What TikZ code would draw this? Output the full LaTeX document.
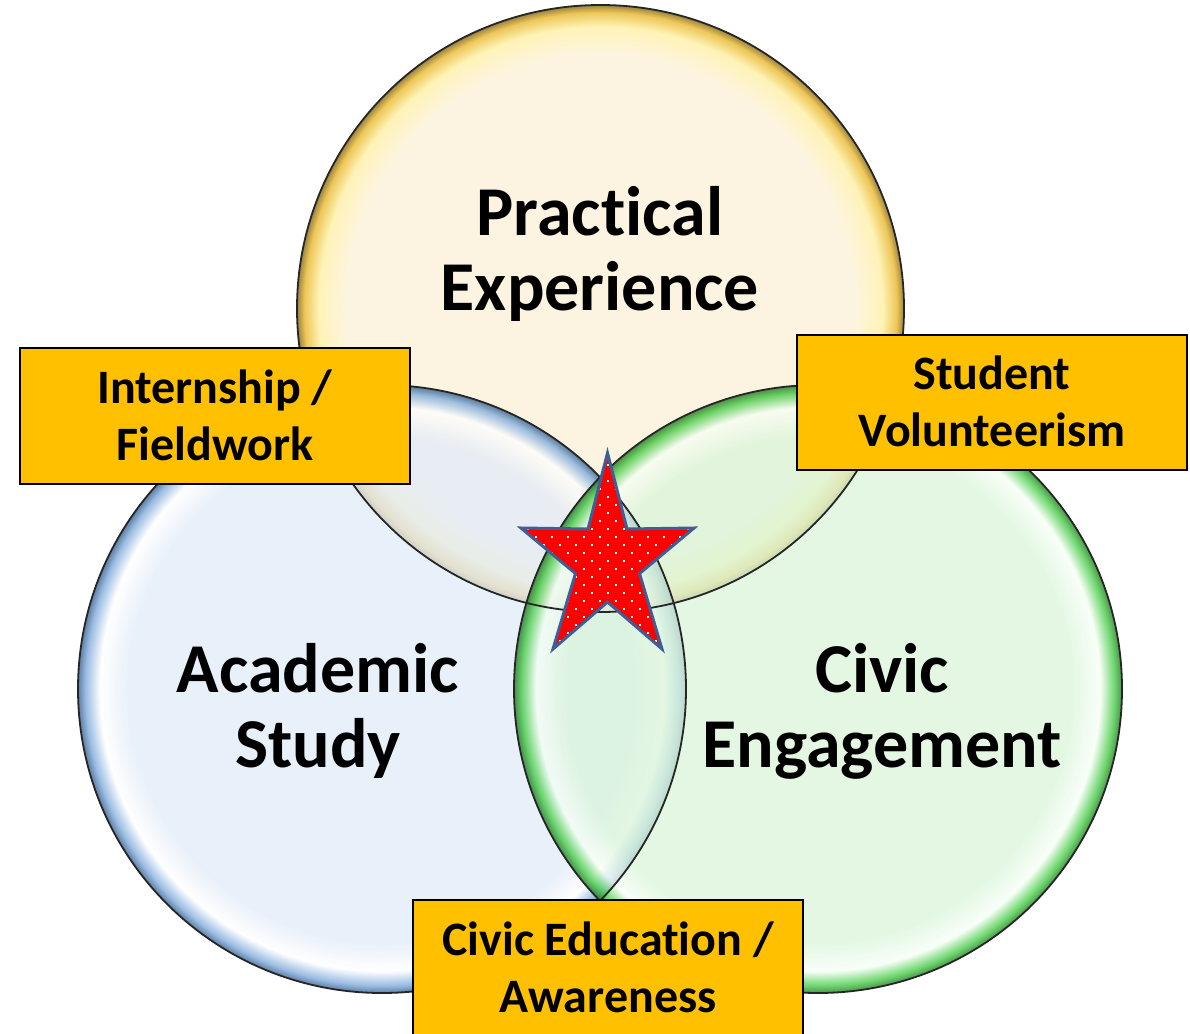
\documentclass[tikz,border=0pt]{standalone}
\usepackage{fontspec}
\setmainfont{Carlito}[Ligatures=NoCommon]
\definecolor{ycore}{HTML}{FCF1D8}
\definecolor{yrimlt}{HTML}{FFF0A0}
\definecolor{yrim}{HTML}{E8B420}
\definecolor{ydark}{HTML}{7A5A00}
\definecolor{bcore}{HTML}{E1EBF8}
\definecolor{brimlt}{HTML}{FFFFFF}
\definecolor{brim}{HTML}{78A6DA}
\definecolor{bdark}{HTML}{2A5585}
\definecolor{gcore}{HTML}{DAF5DA}
\definecolor{grimlt}{HTML}{F6FFF6}
\definecolor{grim}{HTML}{3CC83C}
\definecolor{gdark}{HTML}{137013}
\definecolor{boxfill}{HTML}{FFC000}
\definecolor{staredge}{HTML}{3F5E96}
\definecolor{starred}{HTML}{FF0000}
\pgfdeclareradialshading{yshade}{\pgfpoint{0bp}{0bp}}{color(0bp)=(ycore); color(20.8bp)=(ycore); color(23.2bp)=(yrimlt); color(24.4bp)=(yrim); color(25bp)=(ydark); color(50bp)=(ydark)}
\pgfdeclareradialshading{bshade}{\pgfpoint{0bp}{0bp}}{color(0bp)=(bcore); color(20.8bp)=(bcore); color(23.2bp)=(brimlt); color(24.4bp)=(brim); color(25bp)=(bdark); color(50bp)=(bdark)}
\pgfdeclareradialshading{gshade}{\pgfpoint{0bp}{0bp}}{color(0bp)=(gcore); color(20.8bp)=(gcore); color(23.2bp)=(grimlt); color(24.4bp)=(grim); color(25bp)=(gdark); color(50bp)=(gdark)}
\begin{document}
\begin{tikzpicture}[x=1pt,y=-1pt,
  circline/.style={draw=black!85, line width=1.8pt},
  bigtext/.style={font=\fontsize{70}{75}\selectfont\bfseries, align=center, anchor=base, inner sep=0pt},
  boxnode/.style={draw=black, line width=1.6pt, fill=boxfill, minimum width=390pt, inner sep=0pt},
  boxtext/.style={font=\fontsize{48}{57}\selectfont\bfseries, align=center, anchor=base, inner sep=0pt},
  starshape/.style={insert path={(607.5,453) -- (627,529) -- (694,528) -- (639.5,573.5) -- (662,649) -- (607.5,602) -- (553,649) -- (575.5,573.5) -- (521,528) -- (588,529) -- cycle}}]
\clip (0,0) rectangle (1190,1033);
\fill[white] (0,0) rectangle (1190,1033);
\coordinate (yc) at (600.5,308.5);
\coordinate (bc) at (382,689);
\coordinate (gc) at (818,689);
% circles
\shade[shading=yshade, fill opacity=0.75] (yc) circle[radius=303.5pt];
\shade[shading=bshade, fill opacity=0.75] (bc) circle[radius=304pt];
\shade[shading=gshade, fill opacity=0.75] (gc) circle[radius=304pt];
\draw[circline] (yc) circle[radius=303.5pt];
\draw[circline] (bc) circle[radius=304pt];
\draw[circline] (gc) circle[radius=304pt];
% circle labels (anchor = baseline of last line)
\node[bigtext] (practical) at (600,310) {Practical\\Experience};
\node[bigtext] (academic) at (318,767) {Academic\\Study};
\node[bigtext] (civic) at (882,767) {Civic\\Engagement};
% star
\begin{scope}
  \clip[starshape];
  \fill[starred] (500,440) rectangle (710,660);
  \foreach \i in {0,...,11}{
    \foreach \j in {0,...,12}{
      \fill[white] ({519.7+16*\i-1.2},{456.7+16*\j-1.2}) rectangle ++(2.4,2.4);
      \fill[white] ({511.7+16*\i-1.2},{448.7+16*\j-1.2}) rectangle ++(2.4,2.4);
    }
  }
\end{scope}
\draw[staredge, line width=3pt, line join=miter, starshape];
% boxes
\node[boxnode, minimum height=136pt] (internbox) at (215,416) {};
\node[boxtext] (interntext) at (215,460) {Internship /\\Fieldwork};
\node[boxnode, minimum height=135pt] (volbox) at (992,402.5) {};
\node[boxtext] (voltext) at (992,446) {Student\\Volunteerism};
\node[boxnode, minimum height=150pt] (edubox) at (608,975) {};
\node[boxtext] (edutext) at (608,1012) {Civic Education /\\Awareness};
\end{tikzpicture}
\end{document}
